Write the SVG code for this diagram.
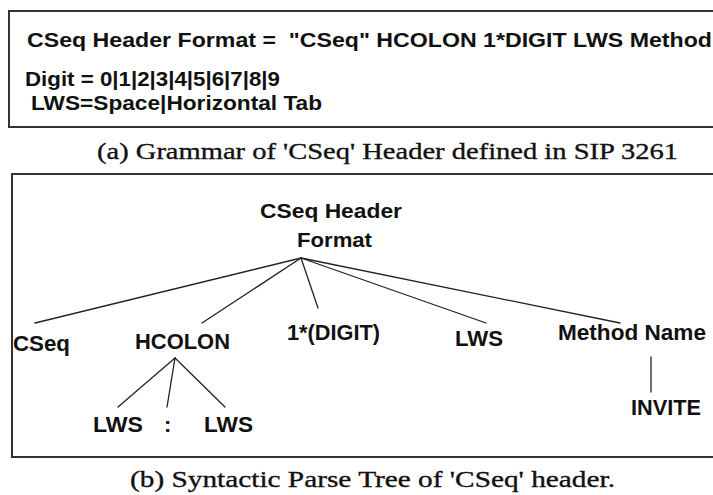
<svg xmlns="http://www.w3.org/2000/svg" width="713" height="495" viewBox="0 0 713 495">
<style>
.box{fill:#fff;stroke:#333;stroke-width:2}
.g{font-family:"Liberation Sans",Arial,sans-serif;font-weight:bold;font-size:21px;fill:#111}
.t{font-size:22px}
.cap{font-family:"Liberation Serif","Times New Roman",serif;font-size:24px;fill:#111;stroke:#111;stroke-width:0.35}
.edge{stroke:#222;stroke-width:1.3;fill:none;stroke-linecap:round}
</style>
<rect width="713" height="495" fill="#fff"/>
<g id="grammar">
<rect class="box" x="9" y="11" width="720" height="116"/>
<text class="g" x="27" y="47" xml:space="preserve" textLength="685" lengthAdjust="spacingAndGlyphs">CSeq Header Format =  "CSeq" HCOLON 1*DIGIT LWS Method</text>
<text class="g" x="25" y="86" textLength="255" lengthAdjust="spacingAndGlyphs">Digit = 0|1|2|3|4|5|6|7|8|9</text>
<text class="g" x="31" y="110" textLength="291" lengthAdjust="spacingAndGlyphs">LWS=Space|Horizontal Tab</text>
</g>
<text id="caption-a" class="cap" x="97" y="159" textLength="581" lengthAdjust="spacingAndGlyphs">(a) Grammar of 'CSeq' Header defined in SIP 3261</text>
<rect id="tree-frame" class="box" x="12" y="174" width="720" height="283"/>
<g id="connectors">
<line class="edge" x1="301" y1="258" x2="35" y2="323"/>
<line class="edge" x1="301" y1="258" x2="202" y2="323"/>
<line class="edge" x1="301" y1="258" x2="318" y2="308"/>
<line class="edge" x1="301" y1="258" x2="486" y2="323"/>
<line class="edge" x1="301" y1="258" x2="620" y2="323"/>
<line class="edge" x1="175" y1="358" x2="118" y2="407"/>
<line class="edge" x1="175" y1="358" x2="167" y2="407"/>
<line class="edge" x1="175" y1="358" x2="225" y2="407"/>
<line class="edge" x1="651" y1="357" x2="651" y2="392"/>
</g>
<g id="root">
<text class="g" x="260" y="218" textLength="142" lengthAdjust="spacingAndGlyphs">CSeq Header</text>
<text class="g" x="297" y="247" textLength="75" lengthAdjust="spacingAndGlyphs">Format</text>
</g>
<g id="cseq"><text class="g t" x="13" y="351" textLength="57" lengthAdjust="spacingAndGlyphs">CSeq</text></g>
<g id="hcolon"><text class="g t" x="135" y="349" textLength="95" lengthAdjust="spacingAndGlyphs">HCOLON</text></g>
<g id="digit"><text class="g t" x="287" y="340" textLength="93" lengthAdjust="spacingAndGlyphs">1*(DIGIT)</text></g>
<g id="lws"><text class="g t" x="455" y="346" textLength="48" lengthAdjust="spacingAndGlyphs">LWS</text></g>
<g id="method"><text class="g t" x="558" y="340" textLength="148" lengthAdjust="spacingAndGlyphs">Method Name</text></g>
<g id="invite"><text class="g t" x="631" y="415" textLength="70" lengthAdjust="spacingAndGlyphs">INVITE</text></g>
<g id="lws-left"><text class="g t" x="93" y="432" textLength="50" lengthAdjust="spacingAndGlyphs">LWS</text></g>
<g id="colon"><text class="g t" x="164" y="432">:</text></g>
<g id="lws-right"><text class="g t" x="204" y="432" textLength="49" lengthAdjust="spacingAndGlyphs">LWS</text></g>
<text id="caption-b" class="cap" x="130" y="487" textLength="485" lengthAdjust="spacingAndGlyphs">(b) Syntactic Parse Tree of 'CSeq' header.</text>
</svg>
